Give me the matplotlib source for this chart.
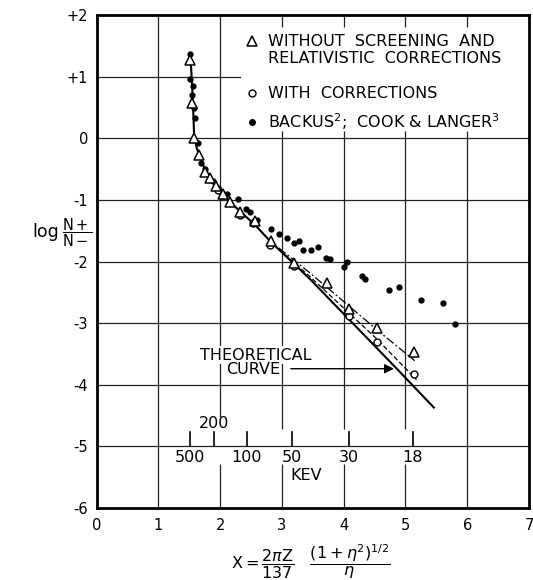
import matplotlib.pyplot as plt

# without screening and relativistic corrections (open triangles)
tri_x = [1.52, 1.54, 1.58, 1.66, 1.76, 1.83, 1.93, 2.04, 2.16, 2.32, 2.56, 2.82, 3.20, 3.73, 4.09, 4.54, 5.14]
tri_y = [1.27, 0.57, 0.01, -0.27, -0.54, -0.65, -0.77, -0.90, -1.04, -1.19, -1.35, -1.67, -2.03, -2.35, -2.77, -3.08, -3.47]

# with corrections (open circles)
circ_x = [1.97, 2.04, 2.32, 2.54, 2.81, 3.20, 4.09, 4.54, 5.14]
circ_y = [-0.84, -0.92, -1.24, -1.38, -1.73, -2.08, -2.88, -3.31, -3.82]

# Backus; Cook & Langer (dots)
dot_x = [1.51, 1.52, 1.55, 1.56, 1.58, 1.59, 1.64, 1.69, 1.75, 1.89, 1.97, 2.12, 2.29, 2.42, 2.49,
         2.59, 2.82, 2.96, 3.09, 3.20, 3.28, 3.34, 3.47, 3.58, 3.72, 3.78, 4.01, 4.05, 4.30, 4.34,
         4.73, 4.90, 5.25, 5.60, 5.80]
dot_y = [1.36, 0.96, 0.70, 0.85, 0.49, 0.33, -0.07, -0.40, -0.50, -0.70, -0.81, -0.90, -0.98, -1.15, -1.20,
         -1.33, -1.47, -1.55, -1.62, -1.70, -1.66, -1.81, -1.82, -1.77, -1.94, -1.96, -2.09, -2.01, -2.24, -2.29,
         -2.46, -2.42, -2.62, -2.67, -3.01]

# theoretical curve
theo_x = [1.52, 1.54, 1.56, 1.58, 1.62, 1.68, 1.76, 1.86, 1.96, 2.06, 2.20, 2.35, 2.56, 2.82, 3.46, 4.86, 5.46]
theo_y = [1.32, 1.00, 0.60, 0.05, -0.15, -0.32, -0.52, -0.66, -0.80, -0.92, -1.07, -1.21, -1.40, -1.68, -2.29, -3.74, -4.37]

# line through corrected points (dashed) and uncorrected points (dash-dot)
corr_x = [2.95, 3.46, 4.54, 5.18]
corr_y = [-1.80, -2.25, -3.26, -3.92]
nocorr_x = [2.95, 3.46, 4.59, 5.15]
nocorr_y = [-1.78, -2.19, -3.15, -3.61]

# energy scale (KEV)
kev_pos = [1.51, 1.90, 2.43, 3.17, 4.09, 5.12]
kev_lab = ['500', '200', '100', '50', '30', '18']

fig = plt.figure(figsize=(5.33, 5.8), dpi=100)
ax = fig.add_axes([96.5/533, 1-508/580, (529-96.5)/533, (508-15)/580])
ax.set_xlim(0, 7)
ax.set_ylim(-6, 2)
for s in ax.spines.values():
    s.set_linewidth(2)
ax.tick_params(length=0, labelsize=10.5)
ax.set_xticks(range(8))
ax.set_yticks(range(-6, 3))
ax.set_yticklabels(['+2' if v == 2 else '+1' if v == 1 else str(v) for v in range(-6, 3)])
ax.tick_params(axis='y', pad=6)
ax.tick_params(axis='x', pad=7)

gc = '#222222'
glw = 0.9
for yv in [-5, -4, -3, -2, -1, 0]:
    ax.plot([0, 7], [yv, yv], color=gc, lw=glw, zorder=1)
ax.plot([0, 2.32], [1, 1], color=gc, lw=glw, zorder=1)
ax.vlines(1, -6, 2, color=gc, lw=glw, zorder=1)
ax.vlines(2, -4.52, 2, color=gc, lw=glw, zorder=1)
ax.vlines(2, -6, -5.29, color=gc, lw=glw, zorder=1)
for xv in [3, 4, 5]:
    ax.vlines(xv, -4.72, 0.12, color=gc, lw=glw, zorder=1)
    ax.vlines(xv, -6, -5.29, color=gc, lw=glw, zorder=1)
    ax.vlines(xv, 1.8, 2, color=gc, lw=glw, zorder=1)
ax.vlines(6, -6, 0.12, color=gc, lw=glw, zorder=1)
ax.vlines(6, 1.8, 2, color=gc, lw=glw, zorder=1)

# curves
ax.plot(theo_x, theo_y, color='black', lw=1.5, zorder=3)
ax.plot(corr_x, corr_y, color='black', lw=0.9, ls=(0, (4, 2)), zorder=3)
ax.plot(nocorr_x, nocorr_y, color='black', lw=0.9, ls=(0, (7, 2, 1.5, 2)), zorder=3)

# points
ax.plot(dot_x, dot_y, 'o', ms=3.5, color='black', zorder=4)
ax.plot(circ_x, circ_y, 'o', ms=5, mfc='white', mec='black', mew=1, zorder=5)
ax.plot(tri_x, tri_y, '^', ms=7, mfc='white', mec='black', mew=1.1, zorder=6)

# legend
lx = 2.51
ax.plot([lx], [1.57], '^', ms=6.5, mfc='white', mec='black', mew=1.1)
ax.plot([lx], [0.73], 'o', ms=5, mfc='white', mec='black', mew=1)
ax.plot([lx], [0.27], 'o', ms=4, color='black')
fs = 11.5
ax.text(2.78, 1.57, 'WITHOUT  SCREENING  AND', fontsize=fs, va='center', ha='left')
ax.text(2.78, 1.30, 'RELATIVISTIC  CORRECTIONS', fontsize=fs, va='center', ha='left')
ax.text(2.78, 0.73, 'WITH  CORRECTIONS', fontsize=fs, va='center', ha='left')
ax.text(2.78, 0.27, r'BACKUS$^{2}$;  COOK & LANGER$^{3}$', fontsize=fs, va='center', ha='left')

# theoretical curve label with arrow
bb = dict(facecolor='white', edgecolor='none', pad=1)
ax.text(2.57, -3.52, 'THEORETICAL', fontsize=fs, ha='center', va='center', bbox=bb, zorder=2)
ax.text(2.53, -3.76, 'CURVE', fontsize=fs, ha='center', va='center', bbox=bb, zorder=2)
ax.annotate('', xy=(4.86, -3.74), xytext=(3.10, -3.74),
            arrowprops=dict(arrowstyle='-|>', color='black', lw=1, mutation_scale=14), zorder=3)

# KEV scale
for p, lab in zip(kev_pos, kev_lab):
    ax.plot([p, p], [-5, -4.77], color='black', lw=1.2, zorder=2)
    yl = -4.63 if lab == '200' else -5.18
    ax.text(p, yl, lab, fontsize=fs, ha='center', va='center')
ax.text(3.40, -5.47, 'KEV', fontsize=fs, ha='center', va='center')

# axis labels
fig.text(32/533, 1-232/580, 'log', fontsize=12.5, ha='left', va='center')
fig.text(62/533, 1-233/580, r'$\dfrac{\mathrm{N+}}{\mathrm{N-}}$', fontsize=10.5, ha='left', va='center')
fig.text(311/533, 1-562/580,
         r'$\mathrm{X} = \dfrac{2\pi\mathrm{Z}}{137}\ \ \ \dfrac{(1+\eta^{2})^{1/2}}{\eta}$',
         fontsize=11.5, ha='center', va='center')

fig.savefig('out.png', dpi=100)
